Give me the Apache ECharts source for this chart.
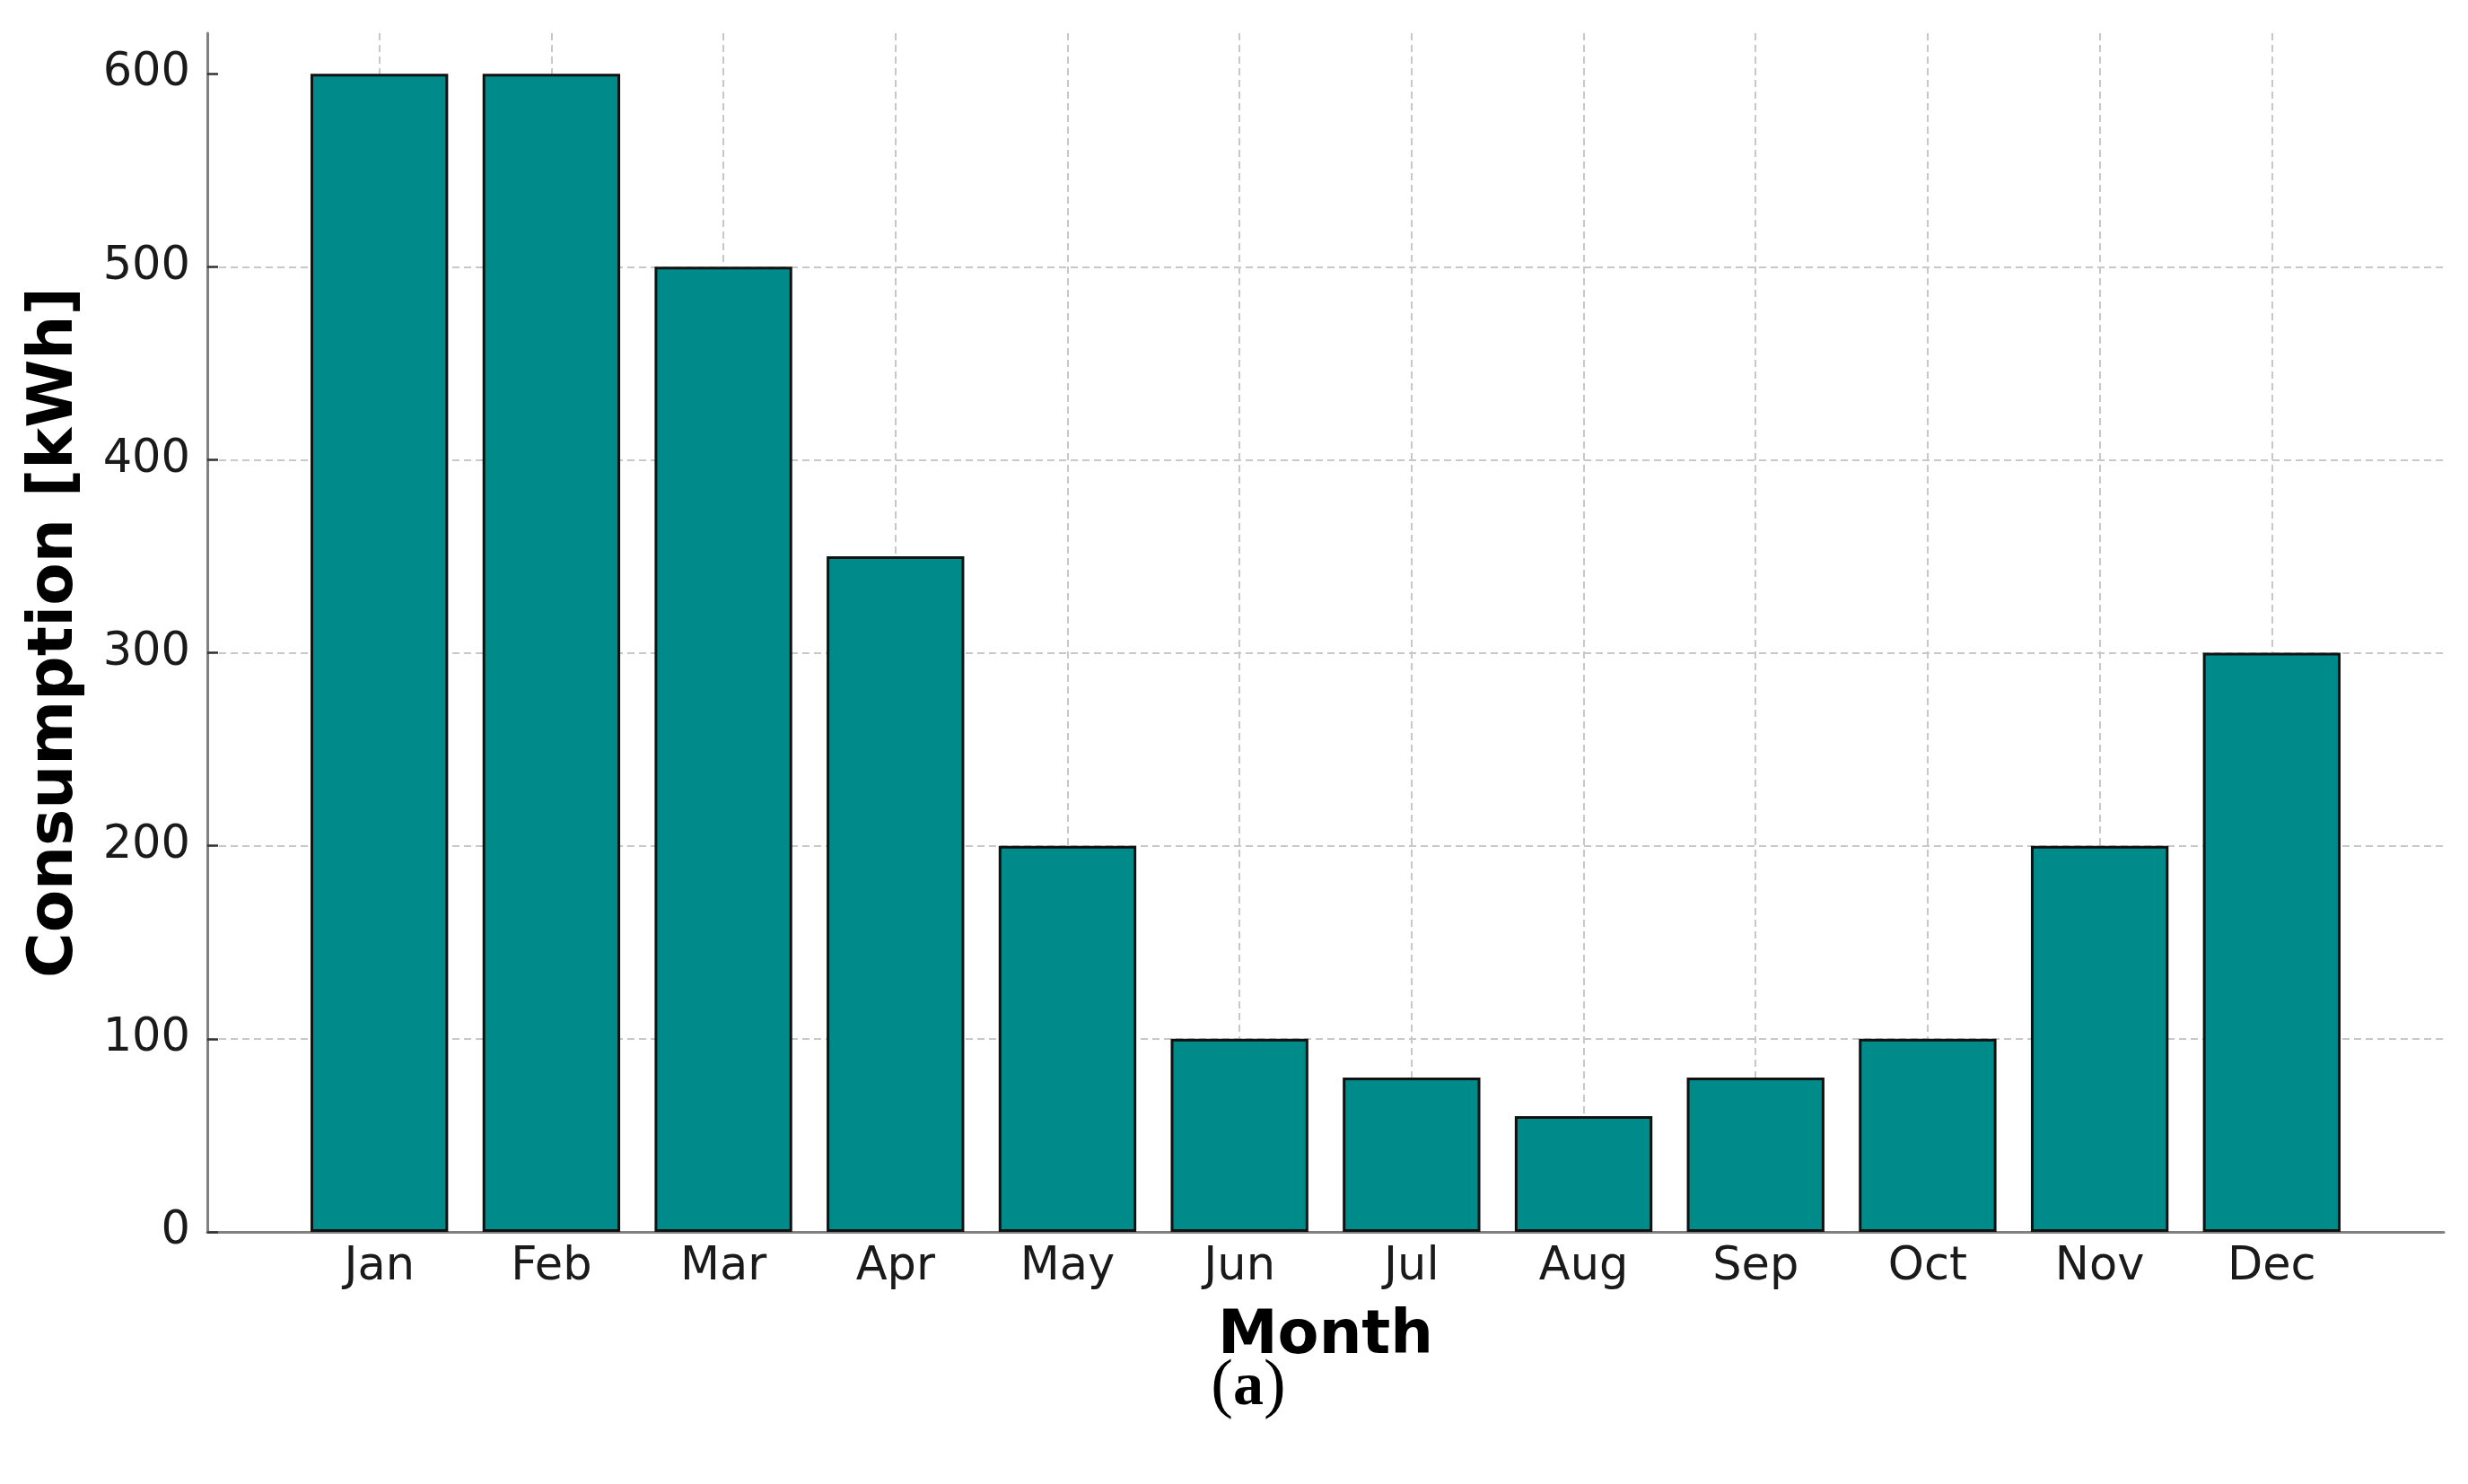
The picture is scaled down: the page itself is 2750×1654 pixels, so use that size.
<!DOCTYPE html>
<html>
<head>
<meta charset="utf-8">
<script src="https://cdn.jsdelivr.net/npm/echarts@6/dist/echarts.min.js"></script>
<style>
html,body{margin:0;padding:0;background:#fff;}
#chart{width:2750px;height:1654px;}
</style>
</head>
<body>
<div id="chart"></div>
<script>
const months = ['Jan','Feb','Mar','Apr','May','Jun','Jul','Aug','Sep','Oct','Nov','Dec'];
const consumption = [600, 600, 500, 350, 200, 100, 80, 60, 80, 100, 200, 300];
const yTicks = [0, 100, 200, 300, 400, 500, 600];

// pad one empty slot on each side (axis spans one category beyond Jan and Dec)
const cats = [''].concat(months, ['']);
const barData = [null].concat(consumption, [null]);

const chart = echarts.init(document.getElementById('chart'), null, {renderer: 'canvas'});
const font = 'DejaVu Sans';
chart.setOption({
  animation: false,
  backgroundColor: '#ffffff',
  grid: {left: 231, right: 27, top: 37, bottom: 281, containLabel: false, outerBoundsMode: 'none'},
  xAxis: {
    type: 'category',
    data: cats,
    boundaryGap: false,
    name: 'Month',
    nameLocation: 'middle',
    nameGap: 84,
    nameTextStyle: {fontFamily: font, fontWeight: 'bold', fontSize: 67, color: '#000'},
    axisLine: {show: true, lineStyle: {color: '#808080', width: 3}},
    axisTick: {show: false},
    axisLabel: {fontFamily: font, fontSize: 51, color: '#1a1a1a', margin: 14, interval: 0},
    splitLine: {
      show: true,
      interval: function (i) { return i > 0 && i < cats.length - 1; },
      lineStyle: {color: '#c8c8c8', width: 2, type: [8, 5]}
    }
  },
  yAxis: {
    type: 'value',
    min: 0,
    max: 621,
    interval: 100,
    name: 'Consumption [kWh]',
    nameLocation: 'middle',
    nameGap: 134,
    nameTextStyle: {fontFamily: font, fontWeight: 'bold', fontSize: 69, color: '#000'},
    axisLine: {show: true, lineStyle: {color: '#808080', width: 3}},
    axisTick: {show: true, inside: true, length: 12, customValues: yTicks, lineStyle: {color: '#333', width: 2.5}},
    axisLabel: {fontFamily: font, fontSize: 51, color: '#1a1a1a', margin: 19, customValues: yTicks},
    splitLine: {show: true, showMaxLine: false, lineStyle: {color: '#c8c8c8', width: 2, type: [8, 5]}}
  },
  series: [{
    type: 'bar',
    data: barData,
    barCategoryGap: '20%',
    itemStyle: {color: '#008b8b', borderColor: '#111', borderWidth: 3}
  }],
  graphic: [{
    type: 'text',
    x: 1391,
    y: 1547,
    style: {
      text: '{p|(}{a|a}{p|)}',
      textAlign: 'center',
      textVerticalAlign: 'middle',
      rich: {
        p: {fontFamily: 'Liberation Serif', fontSize: 74, fill: '#000', fontWeight: 'normal'},
        a: {fontFamily: 'Liberation Serif', fontSize: 68, fill: '#000', fontWeight: 'bold'}
      }
    }
  }]
});
</script>
</body>
</html>
